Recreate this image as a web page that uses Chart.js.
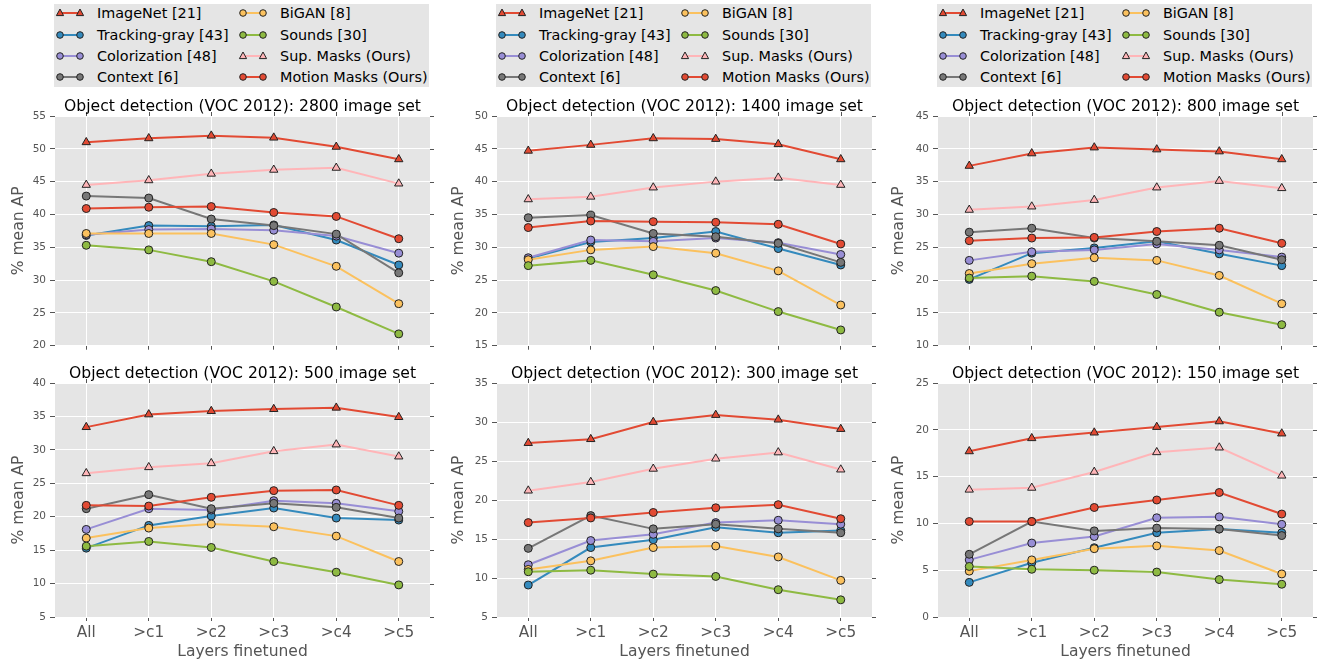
<!DOCTYPE html>
<html><head><meta charset="utf-8">
<script src="https://cdn.jsdelivr.net/npm/chart.js@4/dist/chart.umd.min.js"></script>
<style>
html,body{margin:0;padding:0;background:#fff;width:1320px;height:661px;overflow:hidden;font-family:"DejaVu Sans",sans-serif;}
canvas{position:absolute;}
.legend{position:absolute;top:4px;width:375px;height:83px;background:#e5e5e5;}
.li{position:absolute;height:20px;font-size:14.4px;line-height:20px;color:#000;white-space:nowrap;}
.li svg{position:absolute;left:0;top:4px;}
.li span{position:absolute;left:43px;}
</style></head><body>
<div id="root"></div>
<script>
// ---------- data ----------
const categories = ['All', '>c1', '>c2', '>c3', '>c4', '>c5'];
const panelTitles = [
  'Object detection (VOC 2012): 2800 image set',
  'Object detection (VOC 2012): 1400 image set',
  'Object detection (VOC 2012): 800 image set',
  'Object detection (VOC 2012): 500 image set',
  'Object detection (VOC 2012): 300 image set',
  'Object detection (VOC 2012): 150 image set'
];
const yMins = [20, 15, 10, 5, 5, 0];
const yMaxs = [55, 50, 45, 40, 35, 25];
const yStep = 5;
const seriesNames = ['ImageNet [21]', 'Tracking-gray [43]', 'Colorization [48]', 'Context [6]',
                     'BiGAN [8]', 'Sounds [30]', 'Sup. Masks (Ours)', 'Motion Masks (Ours)'];

// one row per panel: 2800, 1400, 800, 500, 300, 150
const imageNet = [
  [51.0, 51.6, 52.0, 51.7, 50.3, 48.4],
  [44.7, 45.6, 46.6, 46.5, 45.7, 43.4],
  [37.4, 39.3, 40.2, 39.9, 39.6, 38.4],
  [33.4, 35.3, 35.8, 36.1, 36.3, 34.9],
  [27.3, 27.8, 30.0, 30.9, 30.3, 29.1],
  [17.7, 19.1, 19.7, 20.3, 20.9, 19.6]
];
const trackingGray = [
  [36.8, 38.3, 38.2, 38.4, 36.1, 32.3],
  [28.3, 30.8, 31.4, 32.4, 29.8, 27.3],
  [20.1, 24.1, 24.9, 25.9, 24.0, 22.2],
  [15.3, 18.7, 20.1, 21.3, 19.8, 19.5],
  [9.1, 13.9, 14.9, 16.5, 15.8, 16.1],
  [3.7, 5.8, 7.4, 9.0, 9.4, 9.0]
];
const colorization = [
  [36.9, 37.7, 37.8, 37.6, 36.7, 34.1],
  [28.4, 31.1, 30.9, 31.4, 30.7, 28.9],
  [23.0, 24.3, 24.6, 25.5, 24.6, 23.5],
  [18.1, 21.2, 21.0, 22.4, 22.0, 20.8],
  [11.7, 14.8, 15.6, 17.1, 17.4, 16.9],
  [6.1, 7.9, 8.6, 10.6, 10.7, 9.9]
];
const context = [
  [42.8, 42.5, 39.3, 38.3, 37.0, 31.1],
  [34.5, 34.9, 32.1, 31.6, 30.6, 27.7],
  [27.3, 27.9, 26.4, 25.9, 25.3, 23.1],
  [21.2, 23.3, 21.2, 22.0, 21.4, 19.8],
  [13.8, 18.0, 16.3, 16.9, 16.3, 15.8],
  [6.7, 10.2, 9.2, 9.5, 9.4, 8.7]
];
const biGAN = [
  [37.1, 37.1, 37.1, 35.4, 32.1, 26.4],
  [28.1, 29.6, 30.1, 29.1, 26.4, 21.2],
  [21.0, 22.5, 23.4, 23.0, 20.7, 16.4],
  [16.8, 18.3, 18.9, 18.5, 17.1, 13.3],
  [11.1, 12.2, 13.9, 14.1, 12.7, 9.7],
  [4.9, 6.1, 7.3, 7.6, 7.1, 4.6]
];
const sounds = [
  [35.3, 34.6, 32.8, 29.8, 25.9, 21.8],
  [27.2, 28.0, 25.8, 23.4, 20.2, 17.4],
  [20.3, 20.6, 19.8, 17.8, 15.1, 13.2],
  [15.6, 16.3, 15.4, 13.3, 11.7, 9.8],
  [10.8, 11.0, 10.5, 10.2, 8.5, 7.2],
  [5.4, 5.1, 5.0, 4.8, 4.0, 3.5]
];
const supMasks = [
  [44.5, 45.2, 46.2, 46.8, 47.1, 44.7],
  [37.3, 37.7, 39.1, 40.0, 40.6, 39.5],
  [30.7, 31.2, 32.2, 34.1, 35.1, 34.0],
  [26.5, 27.4, 28.0, 29.8, 30.8, 29.0],
  [21.2, 22.3, 24.0, 25.3, 26.1, 23.9],
  [13.6, 13.8, 15.5, 17.6, 18.1, 15.1]
];
const motionMasks = [
  [40.9, 41.1, 41.2, 40.3, 39.7, 36.3],
  [33.0, 34.0, 33.9, 33.8, 33.5, 30.5],
  [26.0, 26.4, 26.5, 27.4, 27.9, 25.6],
  [21.7, 21.6, 22.9, 23.9, 24.0, 21.7],
  [17.1, 17.7, 18.4, 19.0, 19.4, 17.6],
  [10.2, 10.2, 11.7, 12.5, 13.3, 11.0]
];

// ---------- styles ----------
const seriesData = [imageNet, trackingGray, colorization, context, biGAN, sounds, supMasks, motionMasks];
const seriesColors = ['#E24A33', '#348ABD', '#988ED5', '#777777', '#FBC15E', '#8EBA42', '#FFB5B8', '#E24A33'];
const seriesMarkers = ['triangle', 'circle', 'circle', 'circle', 'circle', 'circle', 'triangle', 'circle'];
const FONT = '"DejaVu Sans", sans-serif';

const colLeft = [0, 440, 880];
const plotLeft = [55, 497, 938];
const plotRight = [430, 872, 1313];
const rowTop = [88, 355];
const rowHeight = [268, 306];
const root = document.getElementById('root');

const panelDecor = {
  id: 'panelDecor',
  beforeDraw(chart) {
    const a = chart.chartArea, ctx = chart.ctx;
    ctx.save();
    ctx.fillStyle = '#e5e5e5';
    ctx.fillRect(a.left, a.top, a.right - a.left, a.bottom - a.top);
    ctx.restore();
  },
  afterDraw(chart, args, opts) {
    const a = chart.chartArea, ctx = chart.ctx;
    const xs = chart.scales.x, ys = chart.scales.y;
    ctx.save();
    ctx.strokeStyle = '#555';
    ctx.lineWidth = 1;
    ctx.beginPath();
    ys.ticks.forEach((t, i) => {
      const py = Math.round(ys.getPixelForTick(i)) + 0.5;
      ctx.moveTo(a.right, py); ctx.lineTo(a.right + 4, py);
    });
    xs.ticks.forEach((t, i) => {
      const px = Math.round(xs.getPixelForTick(i)) + 0.5;
      ctx.moveTo(px, a.top); ctx.lineTo(px, a.top - 4);
    });
    ctx.stroke();
    ctx.fillStyle = '#000';
    ctx.font = '15.6px ' + FONT;
    ctx.textAlign = 'center';
    ctx.textBaseline = 'alphabetic';
    ctx.fillText(opts.text, (a.left + a.right) / 2, a.top - 5);
    ctx.restore();
  }
};

function markerSvg(color, marker) {
  const mk = (cx) => marker === 'triangle'
    ? `<polygon points="${cx},2 ${cx - 3.6},8.6 ${cx + 3.6},8.6" fill="${color}" stroke="#222" stroke-width="1"/>`
    : `<circle cx="${cx}" cy="6" r="3.3" fill="${color}" stroke="#222" stroke-width="1"/>`;
  return `<svg width="34" height="12"><line x1="6" y1="6" x2="26" y2="6" stroke="${color}" stroke-width="2"/>${mk(6)}${mk(26)}</svg>`;
}

for (let c = 0; c < 3; c++) {
  const lg = document.createElement('div');
  lg.className = 'legend';
  lg.style.left = (plotLeft[c] - 1) + 'px';
  seriesNames.forEach((name, i) => {
    const it = document.createElement('div');
    it.className = 'li';
    it.style.left = (i < 4 ? 0 : 183) + 'px';
    it.style.top = (-0.7 + 21.3 * (i % 4)) + 'px';
    it.innerHTML = markerSvg(seriesColors[i], seriesMarkers[i]) + `<span>${name}</span>`;
    lg.appendChild(it);
  });
  root.appendChild(lg);
}

for (let p = 0; p < 6; p++) {
  const r = Math.floor(p / 3), c = p % 3;
  const bottomRow = r === 1;
  const cv = document.createElement('canvas');
  cv.width = 440; cv.height = rowHeight[r];
  cv.style.left = colLeft[c] + 'px';
  cv.style.top = rowTop[r] + 'px';
  cv.style.width = '440px'; cv.style.height = rowHeight[r] + 'px';
  root.appendChild(cv);
  const yW = plotLeft[c] - colLeft[c];
  const padR = colLeft[c] + 440 - plotRight[c];
  const datasets = seriesNames.map((name, i) => ({
    label: name,
    data: seriesData[i][p],
    borderColor: seriesColors[i],
    backgroundColor: seriesColors[i],
    borderWidth: 2,
    pointStyle: seriesMarkers[i],
    pointRadius: seriesMarkers[i] === 'triangle' ? 4.8 : 4,
    pointBackgroundColor: seriesColors[i],
    pointBorderColor: '#222',
    pointBorderWidth: 1,
    tension: 0,
    order: 7 - i
  }));
  new Chart(cv, {
    type: 'line',
    data: { labels: categories, datasets },
    options: {
      responsive: false,
      animation: false,
      devicePixelRatio: 1,
      layout: { padding: { top: 28, right: padR, left: 0, bottom: 0 } },
      plugins: {
        legend: { display: false },
        tooltip: { enabled: false },
        title: { display: false },
        panelDecor: { text: panelTitles[p] }
      },
      scales: {
        x: {
          type: 'category',
          offset: true,
          grid: { color: '#ffffff', lineWidth: 1, tickLength: 4, tickColor: '#555', drawTicks: true },
          border: { display: false },
          ticks: { display: bottomRow, color: '#555', font: { family: FONT, size: 15.3 }, padding: 3, maxRotation: 0 },
          title: { display: bottomRow, text: 'Layers finetuned', color: '#555', font: { family: FONT, size: 15.5 }, padding: 0 },
          afterFit(s) { s.height = bottomRow ? 44 : 8; }
        },
        y: {
          min: yMins[p], max: yMaxs[p],
          grid: { color: '#ffffff', lineWidth: 1, tickLength: 5, tickColor: '#555' },
          border: { display: false },
          ticks: { stepSize: yStep, color: '#555', font: { family: FONT, size: 10.5 }, padding: 4 },
          title: { display: true, text: '% mean AP', color: '#555', font: { family: FONT, size: 15.6 }, padding: { top: 10, bottom: 0 } },
          afterFit(s) { s.width = yW; }
        }
      }
    },
    plugins: [panelDecor]
  });
}
</script>
</body></html>
